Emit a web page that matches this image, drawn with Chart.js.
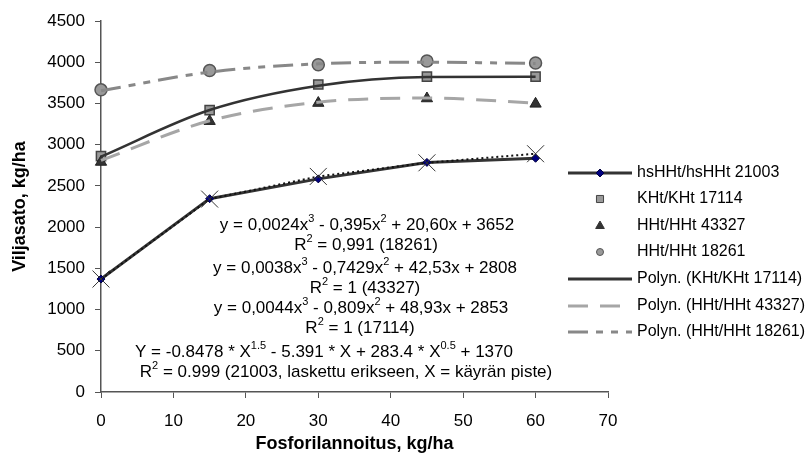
<!DOCTYPE html>
<html>
<head>
<meta charset="utf-8">
<script src="https://cdn.jsdelivr.net/npm/chart.js@4"></script>
<style>
  html, body { margin: 0; padding: 0; background: #fff; }
  #wrap { width: 806px; height: 459px; }
</style>
</head>
<body>
<div id="wrap"><canvas id="chart"></canvas></div>
<script>
const FONT = '"Liberation Sans", Arial, sans-serif';

// fosforilannoitus, kg/ha
const doses = [0, 15, 30, 45, 60];
const xTicks = [0, 10, 20, 30, 40, 50, 60, 70];
const yTicks = [0, 500, 1000, 1500, 2000, 2500, 3000, 3500, 4000, 4500];

// havainnot (kg/ha)
const hsHHt21003 = [1370, 2345, 2585, 2785, 2835];
const hsHHt21003Fit = [1370, 2340, 2615, 2780, 2890];
const kht17114 = [2860, 3420, 3730, 3825, 3825];
const hht43327 = [2790, 3285, 3505, 3560, 3495];
const hht18261 = [3665, 3900, 3970, 4015, 3990];

// trendikäyrät luettuna kuvasta
const kht17114Trend = [2855, 3420, 3715, 3820, 3825];
const hht43327Trend = [2810, 3290, 3515, 3565, 3505];
const hht18261Trend = [3655, 3880, 3980, 4000, 3985];

const equations = [
  "y = 0,0024x^3 - 0,395x^2 + 20,60x + 3652",
  "R^2 = 0,991 (18261)",
  "y = 0,0038x^3 - 0,7429x^2 + 42,53x + 2808",
  "R^2 = 1 (43327)",
  "y = 0,0044x^3 - 0,809x^2 + 48,93x + 2853",
  "R^2 = 1 (17114)",
  "Y = -0.8478 * X^1.5 - 5.391 * X + 283.4 * X^0.5 + 1370",
  "R^2 = 0.999 (21003, laskettu erikseen, X = käyrän piste)"
];
const eqPos = [[367, 225], [366, 245], [365, 268], [365, 288], [361, 308], [360, 328], [324, 352], [346, 372]];

const legendLabels = [
  "hsHHt/hsHHt 21003", "KHt/KHt 17114", "HHt/HHt 43327", "HHt/HHt 18261",
  "Polyn. (KHt/KHt 17114)", "Polyn. (HHt/HHt 43327)", "Polyn. (HHt/HHt 18261)"
];

const pts = vals => vals.map((v, i) => ({ x: doses[i], y: v }));

// teksti, jossa ^ aloittaa yläindeksin (välilyöntiin asti)
function parseRich(str) {
  const parts = [];
  let buf = "", i = 0;
  while (i < str.length) {
    if (str[i] === "^") {
      if (buf) parts.push([buf, false]);
      buf = "";
      i++;
      let sup = "";
      while (i < str.length && str[i] !== " ") sup += str[i++];
      parts.push([sup, true]);
    } else {
      buf += str[i++];
    }
  }
  if (buf) parts.push([buf, false]);
  return parts;
}

function drawRich(ctx, str, cx, cy, size) {
  const parts = parseRich(str);
  let w = 0;
  parts.forEach(p => {
    ctx.font = (p[1] ? Math.round(size * 0.65) : size) + "px " + FONT;
    w += ctx.measureText(p[0]).width;
  });
  let x = cx - w / 2;
  ctx.textAlign = "left";
  ctx.textBaseline = "middle";
  parts.forEach(p => {
    ctx.font = (p[1] ? Math.round(size * 0.65) : size) + "px " + FONT;
    ctx.fillText(p[0], x, p[1] ? cy - size * 0.35 : cy);
    x += ctx.measureText(p[0]).width;
  });
}

const drawPoint = (ctx, opts, x, y) => {
  if (Chart.helpers && Chart.helpers.drawPoint) {
    Chart.helpers.drawPoint(ctx, opts, x, y);
  }
};

const textPlugin = {
  id: "textPlugin",
  afterDraw(chart) {
    const ctx = chart.ctx;
    ctx.save();
    ctx.fillStyle = "#000";
    equations.forEach((e, i) => drawRich(ctx, e, eqPos[i][0], eqPos[i][1], 17));

    // selite
    const lx0 = 568, lx1 = 632, mx = 600, tx = 637;
    const ys = [173, 199, 226, 252, 279, 306, 332];
    ctx.font = "16px " + FONT;
    ctx.textAlign = "left";
    ctx.textBaseline = "middle";
    legendLabels.forEach((lab, i) => {
      const y = ys[i];
      ctx.save();
      if (i === 0 || i >= 4) {
        ctx.beginPath();
        ctx.lineWidth = 3;
        ctx.strokeStyle = i === 0 || i === 4 ? "#333333" : (i === 5 ? "#a6a6a6" : "#888888");
        if (i === 5) ctx.setLineDash([20, 12]);
        if (i === 6) ctx.setLineDash([20, 8, 7, 8, 7, 8]);
        ctx.moveTo(lx0, y);
        ctx.lineTo(lx1, y);
        ctx.stroke();
      }
      ctx.restore();
      ctx.save();
      if (i === 0) {
        ctx.fillStyle = "#000080"; ctx.strokeStyle = "#000040"; ctx.lineWidth = 1;
        drawPoint(ctx, { pointStyle: "rectRot", radius: 4, borderWidth: 1 }, mx, y);
      } else if (i === 1) {
        ctx.fillStyle = "#999999"; ctx.strokeStyle = "#444444"; ctx.lineWidth = 1;
        drawPoint(ctx, { pointStyle: "rect", radius: 5, borderWidth: 1 }, mx, y);
      } else if (i === 2) {
        ctx.fillStyle = "#333333"; ctx.strokeStyle = "#333333"; ctx.lineWidth = 1;
        drawPoint(ctx, { pointStyle: "triangle", radius: 5, borderWidth: 1 }, mx, y);
      } else if (i === 3) {
        ctx.fillStyle = "#999999"; ctx.strokeStyle = "#555555"; ctx.lineWidth = 1;
        drawPoint(ctx, { pointStyle: "circle", radius: 3.5, borderWidth: 1 }, mx, y);
      }
      ctx.restore();
      ctx.fillStyle = "#000";
      ctx.font = "16px " + FONT;
      ctx.fillText(lab, tx, y);
    });
    ctx.restore();
  }
};

new Chart(document.getElementById("chart"), {
  type: "line",
  data: {
    datasets: [
      {
        label: "Polyn. (HHt/HHt 18261)",
        data: pts(hht18261Trend),
        borderColor: "#888888", borderWidth: 3, borderDash: [20, 8, 7, 8, 7, 8],
        pointRadius: 0, cubicInterpolationMode: "monotone", clip: false
      },
      {
        label: "Polyn. (HHt/HHt 43327)",
        data: pts(hht43327Trend),
        borderColor: "#a6a6a6", borderWidth: 3, borderDash: [20, 12],
        pointRadius: 0, cubicInterpolationMode: "monotone", clip: false
      },
      {
        label: "Polyn. (KHt/KHt 17114)",
        data: pts(kht17114Trend),
        borderColor: "#333333", borderWidth: 2.5,
        pointRadius: 0, cubicInterpolationMode: "monotone", clip: false
      },
      {
        label: "HHt/HHt 18261",
        data: pts(hht18261),
        showLine: false, pointStyle: "circle", pointRadius: 6,
        pointBackgroundColor: "#999999", pointBorderColor: "#555555", pointBorderWidth: 1.5,
        clip: false
      },
      {
        label: "HHt/HHt 43327",
        data: pts(hht43327),
        showLine: false, pointStyle: "triangle", pointRadius: 6.5,
        pointBackgroundColor: "#333333", pointBorderColor: "#222222", pointBorderWidth: 1,
        clip: false
      },
      {
        label: "KHt/KHt 17114",
        data: pts(kht17114),
        showLine: false, pointStyle: "rect", pointRadius: 6.5,
        pointBackgroundColor: "#999999", pointBorderColor: "#444444", pointBorderWidth: 1.5,
        clip: false
      },
      {
        label: "21003 sovite",
        data: pts(hsHHt21003Fit),
        borderColor: "#111111", borderWidth: 2, borderDash: [2, 3],
        pointStyle: "crossRot", pointRadius: 12,
        pointBorderColor: "#333333", pointBorderWidth: 1,
        tension: 0, clip: false
      },
      {
        label: "hsHHt/hsHHt 21003",
        data: pts(hsHHt21003),
        borderColor: "#333333", borderWidth: 3,
        pointStyle: "rectRot", pointRadius: 4,
        pointBackgroundColor: "#000080", pointBorderColor: "#000040", pointBorderWidth: 1,
        tension: 0, clip: false
      }
    ]
  },
  options: {
    responsive: true,
    maintainAspectRatio: false,
    animation: false,
    layout: { padding: { left: 0, top: 21, right: 198, bottom: 4 } },
    plugins: {
      legend: { display: false },
      tooltip: { enabled: false }
    },
    scales: {
      x: {
        type: "linear",
        min: 0, max: 70,
        afterBuildTicks: s => { s.ticks = xTicks.map(v => ({ value: v })); },
        afterFit: s => { s.height = 63; },
        grid: { drawOnChartArea: false, drawTicks: true, tickLength: 6, color: "#555555" },
        border: { display: true, color: "#555555", width: 1.5 },
        ticks: { color: "#000", padding: 13, font: { family: FONT, size: 17 }, callback: v => String(v) },
        title: {
          display: true, text: "Fosforilannoitus, kg/ha", color: "#000",
          font: { family: FONT, size: 18, weight: "bold" },
          padding: { top: 0, bottom: 0 }
        }
      },
      y: {
        min: 0, max: 4500,
        afterBuildTicks: s => { s.ticks = yTicks.map(v => ({ value: v })); },
        afterFit: s => { s.width = 101; },
        grid: { drawOnChartArea: false, drawTicks: true, tickLength: 6, color: "#555555" },
        border: { display: true, color: "#555555", width: 1.5 },
        ticks: { color: "#000", padding: 10, font: { family: FONT, size: 17 }, callback: v => String(v) },
        title: {
          display: true, text: "Viljasato, kg/ha", color: "#000",
          font: { family: FONT, size: 18, weight: "bold" },
          padding: { top: 9, bottom: 0 }
        }
      }
    }
  },
  plugins: [textPlugin]
});
</script>
</body>
</html>
